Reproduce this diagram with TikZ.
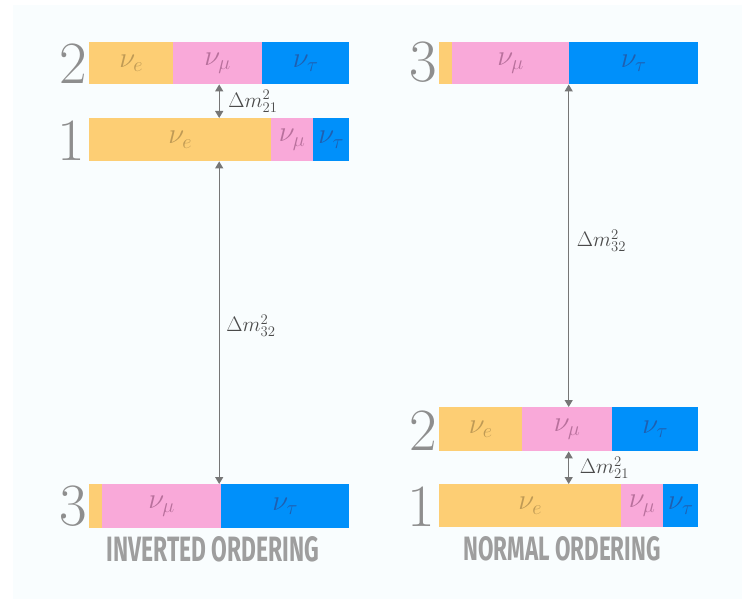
\RequirePackage{fix-cm}
\documentclass[tikz,border=0pt]{standalone}
\usepackage{graphicx}
\usepackage{fontspec}
\newfontfamily\labfont{Fira Sans}
\usetikzlibrary{arrows.meta}
\definecolor{ye}{HTML}{FDCE74}
\definecolor{pk}{HTML}{F9A9D9}
\definecolor{bl}{HTML}{0090FA}
\definecolor{yet}{HTML}{BF9A55}
\definecolor{pkt}{HTML}{B8709C}
\definecolor{blt}{HTML}{1F5FB0}
\definecolor{panel}{HTML}{F9FDFE}
\definecolor{numc}{HTML}{8E8E8E}
\definecolor{arrc}{HTML}{767676}
\definecolor{labc}{HTML}{4A4A4A}
\definecolor{titc}{HTML}{9E9E9E}
\begin{document}
\begin{tikzpicture}[x=1pt,y=-1pt,
  seg/.style={rectangle, inner sep=0pt, anchor=north west, font=\fontsize{29}{31}\selectfont},
  segE/.style={seg, fill=ye, text=yet},
  segM/.style={seg, fill=pk, text=pkt},
  segT/.style={seg, fill=bl, text=blt},
  barbox/.style={rectangle, inner sep=0pt, anchor=north west, draw=none},
  num/.style={inner sep=0pt, anchor=base east, text=numc, font=\fontsize{60}{62}\selectfont},
  arr/.style={{Triangle[length=7pt,width=8pt]}-{Triangle[length=7pt,width=8pt]}, draw=arrc, line width=1.3pt},
  dlab/.style={inner sep=0pt, anchor=west, text=labc, font=\fontsize{21}{24}\selectfont},
  title/.style={inner sep=0pt, text=titc}]
\useasboundingbox (0,0) rectangle (742,599);
\fill[white] (0,0) rectangle (742,599);
\fill[panel] (13,5) rectangle (742,599);

% ---------- Inverted ordering ----------
\node[barbox, minimum width=260pt, minimum height=42pt] (L2) at (89,42) {};
\node[segE, minimum width=84pt, minimum height=42pt] (L2e) at (89,42) {$\nu_e$};
\node[segM, minimum width=89pt, minimum height=42pt] (L2m) at (173,42) {$\nu_\mu$};
\node[segT, minimum width=87pt, minimum height=42pt] (L2t) at (262,42) {$\nu_\tau$};
\node[num] (n2L) at ([xshift=-2pt,yshift=1pt]L2.south west) {2};

\node[barbox, minimum width=260pt, minimum height=43pt] (L1) at (89,118) {};
\node[segE, minimum width=182pt, minimum height=43pt] (L1e) at (89,118) {$\nu_e$};
\node[segM, minimum width=42pt, minimum height=43pt] (L1m) at (271,118) {$\nu_\mu$};
\node[segT, minimum width=36pt, minimum height=43pt] (L1t) at (313,118) {$\nu_\tau$};
\node[num] (n1L) at ([xshift=-4pt,yshift=1pt]L1.south west) {1};

\node[barbox, minimum width=260pt, minimum height=44pt] (L3) at (89,484) {};
\node[segE, minimum width=13pt, minimum height=44pt] (L3e) at (89,484) {};
\node[segM, minimum width=119pt, minimum height=44pt] (L3m) at (102,484) {$\nu_\mu$};
\node[segT, minimum width=128pt, minimum height=44pt] (L3t) at (221,484) {$\nu_\tau$};
\node[num] (n3L) at ([xshift=-2pt,yshift=3pt]L3.south west) {3};

\draw[arr] (L2.south) -- (L1.north) coordinate[midway] (mL21);
\node[dlab] (dL21) at ([xshift=9pt]mL21) {$\Delta m^2_{21}$};
\draw[arr] (L1.south) -- (L3.north) coordinate[midway] (mL32);
\node[dlab] (dL32) at ([xshift=7pt,yshift=-3pt]mL32) {$\Delta m^2_{32}$};

\node[title] (tL) at (213,549) {\resizebox{212pt}{25pt}{\labfont\bfseries INVERTED ORDERING}};

% ---------- Normal ordering ----------
\node[barbox, minimum width=259pt, minimum height=42pt] (R3) at (439,42) {};
\node[segE, minimum width=13pt, minimum height=42pt] (R3e) at (439,42) {};
\node[segM, minimum width=117pt, minimum height=42pt] (R3m) at (452,42) {$\nu_\mu$};
\node[segT, minimum width=129pt, minimum height=42pt] (R3t) at (569,42) {$\nu_\tau$};
\node[num] (n3R) at ([xshift=-2pt,yshift=3pt]R3.south west) {3};

\node[barbox, minimum width=259pt, minimum height=44pt] (R2) at (439,407) {};
\node[segE, minimum width=83pt, minimum height=44pt] (R2e) at (439,407) {$\nu_e$};
\node[segM, minimum width=90pt, minimum height=44pt] (R2m) at (522,407) {$\nu_\mu$};
\node[segT, minimum width=86pt, minimum height=44pt] (R2t) at (612,407) {$\nu_\tau$};
\node[num] (n2R) at ([xshift=-2pt,yshift=1pt]R2.south west) {2};

\node[barbox, minimum width=259pt, minimum height=43pt] (R1) at (439,484) {};
\node[segE, minimum width=182pt, minimum height=43pt] (R1e) at (439,484) {$\nu_e$};
\node[segM, minimum width=42pt, minimum height=43pt] (R1m) at (621,484) {$\nu_\mu$};
\node[segT, minimum width=35pt, minimum height=43pt] (R1t) at (663,484) {$\nu_\tau$};
\node[num] (n1R) at ([xshift=-4pt,yshift=1pt]R1.south west) {1};

\draw[arr] (R3.south) -- (R2.north) coordinate[midway] (mR32);
\node[dlab] (dR32) at ([xshift=8pt,yshift=5pt]mR32) {$\Delta m^2_{32}$};
\draw[arr] (R2.south) -- (R1.north) coordinate[midway] (mR21);
\node[dlab] (dR21) at ([xshift=11pt]mR21) {$\Delta m^2_{21}$};

\node[title] (tR) at (562,549) {\resizebox{197pt}{24pt}{\labfont\bfseries NORMAL ORDERING}};
\end{tikzpicture}
\end{document}
